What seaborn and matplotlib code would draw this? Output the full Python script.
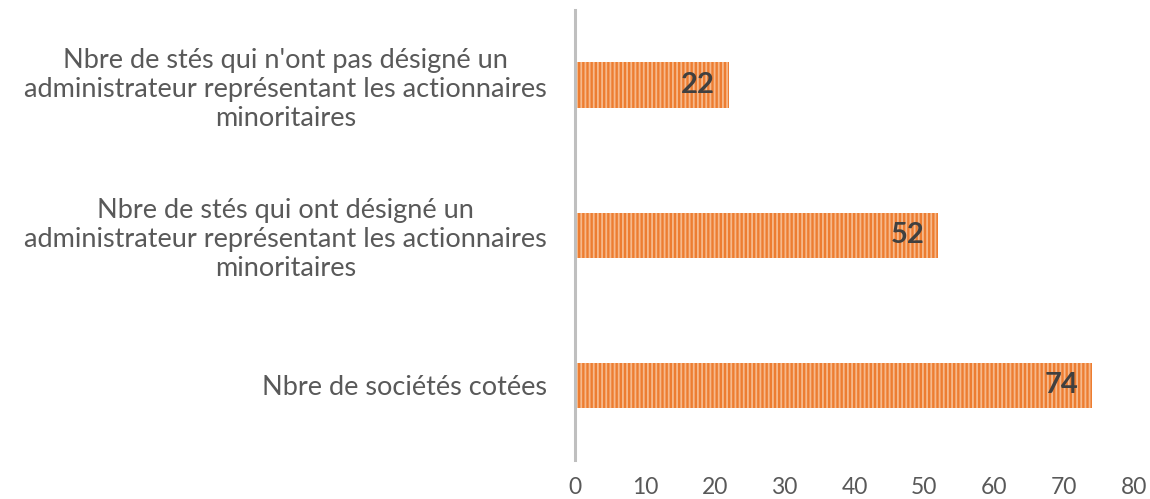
import matplotlib
matplotlib.use("Agg")
import matplotlib.pyplot as plt
import seaborn as sns
import pandas as pd

categories = [
    "Nbre de stés qui n'ont pas désigné un\nadministrateur représentant les actionnaires\nminoritaires",
    "Nbre de stés qui ont désigné un\nadministrateur représentant les actionnaires\nminoritaires",
    "Nbre de sociétés cotées",
]
values = [22, 52, 74]
x_ticks = [0, 10, 20, 30, 40, 50, 60, 70, 80]

sns.set_theme(style="white")
plt.rcParams['font.family'] = ['Lato', 'DejaVu Sans']
plt.rcParams['hatch.linewidth'] = 1.3
plt.rcParams['hatch.color'] = '#F6B98C'

df = pd.DataFrame({"cat": categories, "val": values})

fig = plt.figure(figsize=(11.5, 4.99), dpi=100)
ax = fig.add_axes([0.5, 0.078, 0.486, 0.902])
sns.barplot(data=df, y="cat", x="val", orient="h", color="#ED7D31", width=0.3,
            saturation=1, ax=ax)
for p in ax.patches:
    p.set_hatch('||||')
    p.set_edgecolor('#F6B98C')
    p.set_linewidth(0)

ax.set_xlim(0, 80)
ax.set_xticks(x_ticks)
ax.set_xticklabels([str(t) for t in x_ticks], fontsize=16.5, color='#595959')
ax.set_xlabel("")
ax.set_ylabel("")
ax.tick_params(axis='y', length=0, pad=20)
ax.tick_params(axis='x', length=0, pad=12)
for lab in ax.get_yticklabels():
    lab.set_fontsize(19.5)
    lab.set_color('#595959')
    lab.set_multialignment('center')
    lab.set_linespacing(1.2)

for s in ['top', 'right', 'bottom']:
    ax.spines[s].set_visible(False)
ax.spines['left'].set_color('#BFBFBF')
ax.spines['left'].set_linewidth(2.2)

for i, v in enumerate(values):
    ax.text(v - 2.0, i, str(v), ha='right', va='center', fontsize=21,
            fontweight='bold', color='#404040')

fig.savefig("out.png", dpi=100)
